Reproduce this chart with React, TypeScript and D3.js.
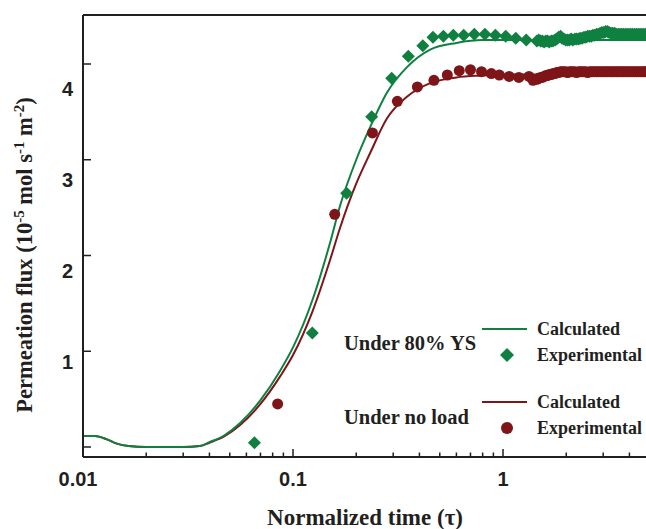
import React from "react";
import * as d3 from "d3";

// ---------- data ----------
const calcTime = [0.01, 0.0114, 0.013, 0.0145, 0.0165, 0.02, 0.025, 0.03, 0.036, 0.04, 0.047, 0.056, 0.07, 0.087, 0.1, 0.124, 0.15, 0.167, 0.2, 0.233, 0.28, 0.35, 0.45, 0.6, 0.8, 1, 2, 5, 10];
const calcLoaded = [0.115, 0.115, 0.08, 0.035, 0.01, 0.0, 0.0, 0.0, 0.01, 0.05, 0.12, 0.25, 0.49, 0.8, 1.04, 1.54, 2.13, 2.51, 3.0, 3.34, 3.7, 3.97, 4.15, 4.22, 4.25, 4.25, 4.25, 4.25, 4.25];
const calcNoLoad = [0.115, 0.115, 0.08, 0.035, 0.01, 0.0, 0.0, 0.0, 0.01, 0.045, 0.11, 0.23, 0.45, 0.74, 0.96, 1.42, 1.95, 2.28, 2.75, 3.07, 3.43, 3.66, 3.8, 3.86, 3.88, 3.89, 3.89, 3.89, 3.89];

const expLoadedTime = [0.0655, 0.1236, 0.18, 0.237, 0.295, 0.354, 0.415, 0.464, 0.52, 0.58, 0.65, 0.73, 0.82, 0.92, 1.03, 1.15, 1.29,
  1.45, 1.48, 1.51, 1.54, 1.57, 1.6, 1.63, 1.66, 1.7, 1.73, 1.77, 1.8, 1.84, 1.88, 1.91, 1.95, 1.99, 2.03, 2.07, 2.11, 2.15, 2.2, 2.24, 2.29, 2.33, 2.38, 2.43, 2.48, 2.53, 2.58, 2.63, 2.68, 2.73, 2.79, 2.84, 2.9, 2.96, 3.02, 3.08, 3.14, 3.2, 3.27, 3.33, 3.4, 3.47, 3.54, 3.61, 3.68, 3.75, 3.83, 3.9, 3.98, 4.06, 4.14, 4.23, 4.31, 4.4, 4.49, 4.58, 4.67, 4.76, 4.86, 4.95];
const expLoaded = [0.045, 1.19, 2.65, 3.45, 3.85, 4.08, 4.19, 4.28, 4.29, 4.3, 4.3, 4.31, 4.31, 4.3, 4.29, 4.27, 4.25,
  4.24, 4.25, 4.24, 4.24, 4.23, 4.24, 4.24, 4.23, 4.24, 4.24, 4.25, 4.26, 4.28, 4.29, 4.27, 4.26, 4.25, 4.25, 4.25, 4.26, 4.25, 4.26, 4.26, 4.26, 4.27, 4.27, 4.28, 4.28, 4.29, 4.29, 4.29, 4.3, 4.3, 4.31, 4.31, 4.32, 4.33, 4.33, 4.34, 4.34, 4.33, 4.32, 4.32, 4.32, 4.31, 4.31, 4.31, 4.31, 4.31, 4.31, 4.31, 4.31, 4.31, 4.31, 4.31, 4.31, 4.31, 4.31, 4.31, 4.31, 4.31, 4.31, 4.31];

const expNoLoadTime = [0.0845, 0.158, 0.239, 0.314, 0.391, 0.469, 0.543, 0.619, 0.7, 0.79, 0.88, 0.96, 1.07, 1.19, 1.33, 1.39,
  1.45, 1.48, 1.51, 1.54, 1.57, 1.6, 1.63, 1.66, 1.7, 1.73, 1.77, 1.8, 1.84, 1.88, 1.91, 1.95, 1.99, 2.03, 2.07, 2.11, 2.15, 2.2, 2.24, 2.29, 2.33, 2.38, 2.43, 2.48, 2.53, 2.58, 2.63, 2.68, 2.73, 2.79, 2.84, 2.9, 2.96, 3.02, 3.08, 3.14, 3.2, 3.27, 3.33, 3.4, 3.47, 3.54, 3.61, 3.68, 3.75, 3.83, 3.9, 3.98, 4.06, 4.14, 4.23, 4.31, 4.4, 4.49, 4.58, 4.67, 4.76, 4.86, 4.95];
const expNoLoad = [0.45, 2.43, 3.28, 3.61, 3.76, 3.83, 3.885, 3.93, 3.94, 3.92, 3.9, 3.885, 3.87, 3.86, 3.87, 3.83,
  3.84, 3.85, 3.86, 3.86, 3.87, 3.88, 3.88, 3.89, 3.89, 3.9, 3.9, 3.91, 3.91, 3.92, 3.92, 3.92, 3.92, 3.91, 3.92, 3.92, 3.92, 3.92, 3.91, 3.92, 3.92, 3.92, 3.92, 3.92, 3.91, 3.92, 3.92, 3.92, 3.92, 3.92, 3.92, 3.92, 3.92, 3.92, 3.92, 3.92, 3.92, 3.92, 3.92, 3.92, 3.92, 3.92, 3.92, 3.92, 3.92, 3.92, 3.92, 3.92, 3.92, 3.92, 3.92, 3.92, 3.92, 3.92, 3.92, 3.92, 3.92, 3.92, 3.92];

const xMajorTicks = [0.01, 0.1, 1];
const xTickLabels = ["0.01", "0.1", "1"];
const xMinorTicks = [0.02, 0.03, 0.04, 0.05, 0.06, 0.07, 0.08, 0.09, 0.2, 0.3, 0.4, 0.5, 0.6, 0.7, 0.8, 0.9, 2, 3, 4];
const yTicks = [0, 1, 2, 3, 4];
const yLabelValues = [1, 2, 3, 4];
const yTickLabels = ["1", "2", "3", "4"];

const GREEN = "#0f8040";
const RED = "#7e1518";
const AXIS = "#231f20";

function zip(ts: number[], vs: number[]): [number, number][] {
  const n = Math.min(ts.length, vs.length);
  const out: [number, number][] = [];
  for (let i = 0; i < n; i++) out.push([ts[i], vs[i]]);
  return out;
}

export default function App() {
  const W = 646, H = 529;
  const x = d3.scaleLog().domain([0.01, 10]).range([83, 713]);
  const y = d3.scaleLinear().domain([0, 4]).range([447, 64]);
  const yLab = d3.scaleLinear().domain([1, 4]).range([362, 89]);
  const top = 15, bottom = 457, left = 83, right = W;

  const line = d3.line<[number, number]>()
    .x((d) => x(d[0]))
    .y((d) => y(d[1]))
    .curve(d3.curveMonotoneX);

  const greenCalc = line(zip(calcTime, calcLoaded));
  const redCalc = line(zip(calcTime, calcNoLoad));
  const greenPts = zip(expLoadedTime, expLoaded);
  const redPts = zip(expNoLoadTime, expNoLoad);
  const diamond = (cx: number, cy: number, r: number) =>
    `M${cx},${cy - r}L${cx + r},${cy}L${cx},${cy + r}L${cx - r},${cy}Z`;

  const serif = "'Liberation Serif', 'Times New Roman', serif";
  const sans = "'Liberation Sans', Arial, sans-serif";

  return (
    <svg width={W} height={H} style={{ position: "absolute", left: 0, top: 0, background: "#fff" }}>
      <defs>
        <clipPath id="plot">
          <rect x={left} y={top} width={right - left} height={bottom - top} />
        </clipPath>
      </defs>
      <g clipPath="url(#plot)">
        <path d={redCalc || ""} fill="none" stroke={RED} strokeWidth={2} />
        <path d={greenCalc || ""} fill="none" stroke={GREEN} strokeWidth={2} />
        {redPts.map((d, i) => (
          <circle key={"r" + i} cx={x(d[0])} cy={y(d[1])} r={5.5} fill={RED} />
        ))}
        {greenPts.map((d, i) => (
          <path key={"g" + i} d={diamond(x(d[0]), y(d[1]), 6.5)} fill={GREEN} />
        ))}
      </g>
      <line x1={left} x2={left} y1={top} y2={bottom} stroke={AXIS} strokeWidth={2} />
      <line x1={left} x2={right} y1={bottom} y2={bottom} stroke={AXIS} strokeWidth={2} />
      <line x1={left} x2={right} y1={top} y2={top} stroke={AXIS} strokeWidth={2} />
      {yTicks.map((v) => (
        <line key={"yt" + v} x1={left} x2={left + 8} y1={y(v)} y2={y(v)} stroke={AXIS} strokeWidth={1.5} />
      ))}
      {yLabelValues.map((v, i) => (
        <text key={"yl" + v} x={73} y={yLab(v)} dy="0.35em" textAnchor="end" fontFamily={sans} fontWeight="bold" fontSize={20} fill={AXIS}>
          {yTickLabels[i]}
        </text>
      ))}
      {xMajorTicks.map((v, i) => (
        <g key={"xt" + v}>
          <line x1={x(v)} x2={x(v)} y1={bottom} y2={bottom - 8} stroke={AXIS} strokeWidth={1.5} />
          <text x={x(v) - (i === 0 ? 5 : 0)} y={486} textAnchor="middle" fontFamily={sans} fontWeight="bold" fontSize={20} fill={AXIS}>
            {xTickLabels[i]}
          </text>
        </g>
      ))}
      {xMinorTicks.map((v) => (
        <line key={"xm" + v} x1={x(v)} x2={x(v)} y1={bottom} y2={bottom - 4.5} stroke={AXIS} strokeWidth={1.5} />
      ))}
      <text x={365} y={525} textAnchor="middle" fontFamily={serif} fontWeight="bold" fontSize={23} fill={AXIS}>
        Normalized time (τ)
      </text>
      <text transform="translate(32,255) rotate(-90)" textAnchor="middle" fontFamily={serif} fontWeight="bold" fontSize={22.5} fill={AXIS}>
        Permeation flux (10<tspan dy={-8} fontSize={15}>-5</tspan><tspan dy={8}> mol s</tspan><tspan dy={-8} fontSize={15}>-1</tspan><tspan dy={8}> m</tspan><tspan dy={-8} fontSize={15}>-2</tspan><tspan dy={8}>)</tspan>
      </text>
      <g fontFamily={serif} fontWeight="bold" fill={AXIS}>
        <text x={344} y={343} dy="0.35em" fontSize={20.5}>Under 80% YS</text>
        <line x1={482} x2={527} y1={329} y2={329} stroke={GREEN} strokeWidth={2} />
        <text x={537} y={329} dy="0.35em" fontSize={18}>Calculated</text>
        <path d={diamond(507, 355, 7)} fill={GREEN} />
        <text x={537} y={355} dy="0.35em" fontSize={18}>Experimental</text>
        <text x={344} y={417} dy="0.35em" fontSize={20.5}>Under no load</text>
        <line x1={482} x2={527} y1={402} y2={402} stroke={RED} strokeWidth={2} />
        <text x={537} y={402} dy="0.35em" fontSize={18}>Calculated</text>
        <circle cx={507} cy={428} r={6} fill={RED} />
        <text x={537} y={428} dy="0.35em" fontSize={18}>Experimental</text>
      </g>
    </svg>
  );
}
